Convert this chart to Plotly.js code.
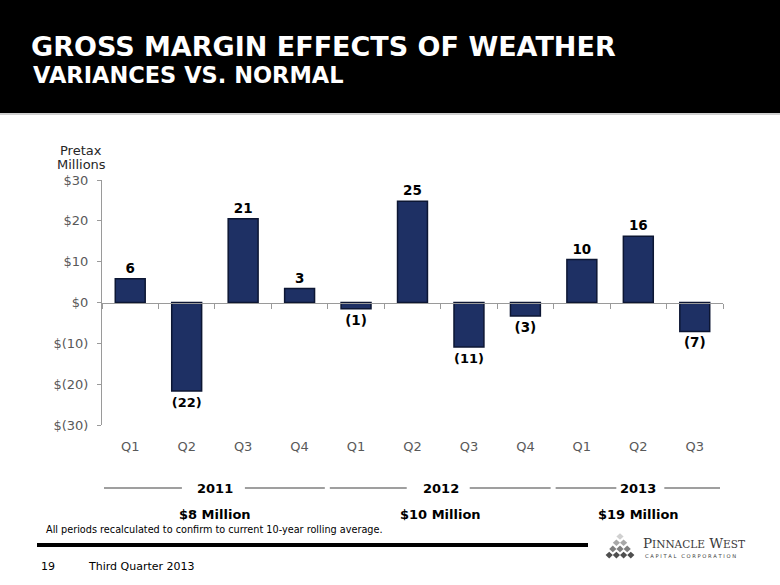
<!DOCTYPE html>
<html>
<head>
<meta charset="utf-8">
<script src="https://cdn.plot.ly/plotly-3.0.1.min.js"></script>
<style>html,body{margin:0;padding:0;background:#fff;}#chart{width:780px;height:585px;}</style>
</head>
<body>
<div id="chart"></div>
<script>
// ---- data ----
const categories = ['2011 Q1','2011 Q2','2011 Q3','2011 Q4','2012 Q1','2012 Q2','2012 Q3','2012 Q4','2013 Q1','2013 Q2','2013 Q3'];
const quarterLabels = ['Q1','Q2','Q3','Q4','Q1','Q2','Q3','Q4','Q1','Q2','Q3'];
const values = [5.8, -21.7, 20.5, 3.4, -1.5, 24.8, -10.9, -3.3, 10.5, 16.2, -7.1];
const valueLabels = ['6','(22)','21','3','(1)','25','(11)','(3)','10','16','(7)'];
const years = ['2011','2012','2013'];
const yearTotals = ['$8 Million','$10 Million','$19 Million'];
const quartersPerYear = [4, 4, 3];
const yTickVals = [30, 20, 10, 0, -10, -20, -30];
const yTickText = ['$30','$20','$10','$0','$(10)','$(20)','$(30)'];

// ---- layout helpers (pixel -> paper) ----
const W = 780, H = 585;
const M = {l: 102, r: 57, t: 180, b: 160};
const PW = W - M.l - M.r, PH = H - M.t - M.b;
const px = x => (x - M.l) / PW;
const py = y => (H - M.b - y) / PH;
const catW = PW / categories.length;

const FONT = 'DejaVu Sans, Verdana, sans-serif';
const shapes = [];
const annotations = [];

// black banner
shapes.push({type:'rect', xref:'paper', yref:'paper', x0:px(0), x1:px(W), y0:py(0), y1:py(113),
  fillcolor:'#000', line:{width:0}, layer:'below'});
shapes.push({type:'line', xref:'paper', yref:'paper', x0:px(0), x1:px(W), y0:py(114), y1:py(114),
  line:{color:'#bfbfbf', width:1.5}});

// subtitle
annotations.push({xref:'paper', yref:'paper', x:px(31), y:py(75), xanchor:'left', yanchor:'middle', showarrow:false,
  text:'<b>VARIANCES VS. NORMAL</b>', font:{family:FONT, size:22.5, color:'#fff'}});

// axis unit label
annotations.push({xref:'paper', yref:'paper', x:px(81), y:py(151), xanchor:'center', yanchor:'middle', showarrow:false,
  text:'Pretax', font:{family:FONT, size:13, color:'#262626'}});
annotations.push({xref:'paper', yref:'paper', x:px(81), y:py(165), xanchor:'center', yanchor:'middle', showarrow:false,
  text:'Millions', font:{family:FONT, size:13, color:'#262626'}});

// year group labels & lines
const gaps = [[33, 30], [34, 29], [22, 26]];
let start = 0;
years.forEach((yr, i) => {
  const x0 = M.l + start * catW;
  const x1 = M.l + (start + quartersPerYear[i]) * catW;
  const cx = (x0 + x1) / 2;
  annotations.push({xref:'paper', yref:'paper', x:px(cx), y:py(488), xanchor:'center', yanchor:'middle', showarrow:false,
    text:'<b>' + yr + '</b>', font:{family:FONT, size:13, color:'#000'}});
  annotations.push({xref:'paper', yref:'paper', x:px(cx), y:py(514), xanchor:'center', yanchor:'middle', showarrow:false,
    text:'<b>' + yearTotals[i] + '</b>', font:{family:FONT, size:13, color:'#000'}});
  shapes.push({type:'line', xref:'paper', yref:'paper', x0:px(x0 + 2), x1:px(cx - gaps[i][0]), y0:py(488), y1:py(488),
    line:{color:'#7f7f7f', width:1.5}});
  shapes.push({type:'line', xref:'paper', yref:'paper', x0:px(cx + gaps[i][1]), x1:px(x1 - 3), y0:py(488), y1:py(488),
    line:{color:'#7f7f7f', width:1.5}});
  start += quartersPerYear[i];
});

// footnote
annotations.push({xref:'paper', yref:'paper', x:px(44), y:py(529), xanchor:'left', yanchor:'middle', showarrow:false,
  text:'All periods recalculated to confirm to current 10-year rolling average.', font:{family:FONT, size:9.7, color:'#000'}});

// footer rule
shapes.push({type:'rect', xref:'paper', yref:'paper', x0:px(37), x1:px(588), y0:py(543), y1:py(547),
  fillcolor:'#000', line:{width:0}});
annotations.push({xref:'paper', yref:'paper', x:px(39), y:py(566), xanchor:'left', yanchor:'middle', showarrow:false,
  text:'19', font:{family:FONT, size:11, color:'#000'}});
annotations.push({xref:'paper', yref:'paper', x:px(86), y:py(566), xanchor:'left', yanchor:'middle', showarrow:false,
  text:'Third Quarter 2013', font:{family:FONT, size:11, color:'#000'}});

// logo diamonds
const rowShades = ['#d0d0d0','#a8a8a8','#7e7e7e','#4e4e4e'];
for (let r = 0; r < 4; r++) {
  for (let k = 0; k <= r; k++) {
    const cx = 620 + (k - r / 2) * 7.2;
    const cy = 536.5 + r * 6.2;
    const hw = 3.6, hh = 3.3;
    shapes.push({type:'path', xref:'paper', yref:'paper',
      path:`M ${px(cx)},${py(cy - hh)} L ${px(cx + hw)},${py(cy)} L ${px(cx)},${py(cy + hh)} L ${px(cx - hw)},${py(cy)} Z`,
      fillcolor: rowShades[r], line:{width:0}});
  }
}
annotations.push({xref:'paper', yref:'paper', x:px(641), y:py(543), xanchor:'left', yanchor:'middle', showarrow:false,
  text:'P<span style="font-size:10.5px">INNACLE</span> W<span style="font-size:10.5px">EST</span>',
  font:{family:'DejaVu Serif, serif', size:13.5, color:'#3a3a3a'}});
annotations.push({xref:'paper', yref:'paper', x:px(643), y:py(556), xanchor:'left', yanchor:'middle', showarrow:false,
  text:'C A P I T A L &#160; C O R P O R A T I O N', font:{family:FONT, size:5.2, color:'#3a3a3a'}});

const traces = [
  {
    type:'bar', x:categories, y:values, xaxis:'x', yaxis:'y',
    text:valueLabels, textposition:'outside', texttemplate:'<b>%{text}</b>',
    textfont:{family:FONT, size:13.5, color:'#000'}, cliponaxis:false,
    marker:{color:'#1e3064', line:{color:'#0c1633', width:1.5}},
    hoverinfo:'skip', showlegend:false
  },
  {
    type:'scatter', mode:'markers', x:categories, y:values, xaxis:'x2', yaxis:'y',
    marker:{opacity:0, size:1}, hoverinfo:'skip', showlegend:false
  }
];

const layout = {
  width:W, height:H,
  margin:M,
  paper_bgcolor:'#fff', plot_bgcolor:'rgba(0,0,0,0)',
  title:{text:'<b>GROSS MARGIN EFFECTS OF WEATHER</b>', xref:'container', yref:'container',
    x:31/W, xanchor:'left', y:1 - 47/H, yanchor:'middle',
    font:{family:FONT, size:27, color:'#fff'}},
  bargap:0.47,
  showlegend:false,
  xaxis:{type:'category', categoryarray:categories, range:[-0.5, categories.length - 0.5],
    anchor:'free', position:0.5, showline:true, linecolor:'#9a9a9a', linewidth:1,
    ticks:'outside', tickson:'boundaries', ticklen:5, tickcolor:'#9a9a9a',
    showticklabels:false, showgrid:false, zeroline:false, fixedrange:true},
  xaxis2:{type:'category', overlaying:'x', matches:'x', anchor:'y', side:'bottom',
    tickvals:categories, ticktext:quarterLabels, showline:false, showgrid:false, zeroline:false,
    ticks:'outside', ticklen:9, tickcolor:'rgba(0,0,0,0)',
    tickfont:{family:FONT, size:13, color:'#595959'}},
  yaxis:{range:[-30, 30], tickvals:yTickVals, ticktext:yTickText, showline:true, linecolor:'#9a9a9a',
    linewidth:1, ticks:'outside', ticklen:4, tickcolor:'#9a9a9a', showgrid:false, zeroline:false,
    ticklabelstandoff:6,
    tickfont:{family:FONT, size:13, color:'#595959'}},
  shapes:shapes,
  annotations:annotations
};

Plotly.newPlot('chart', traces, layout, {displayModeBar:false, staticPlot:true});
</script>
</body>
</html>
